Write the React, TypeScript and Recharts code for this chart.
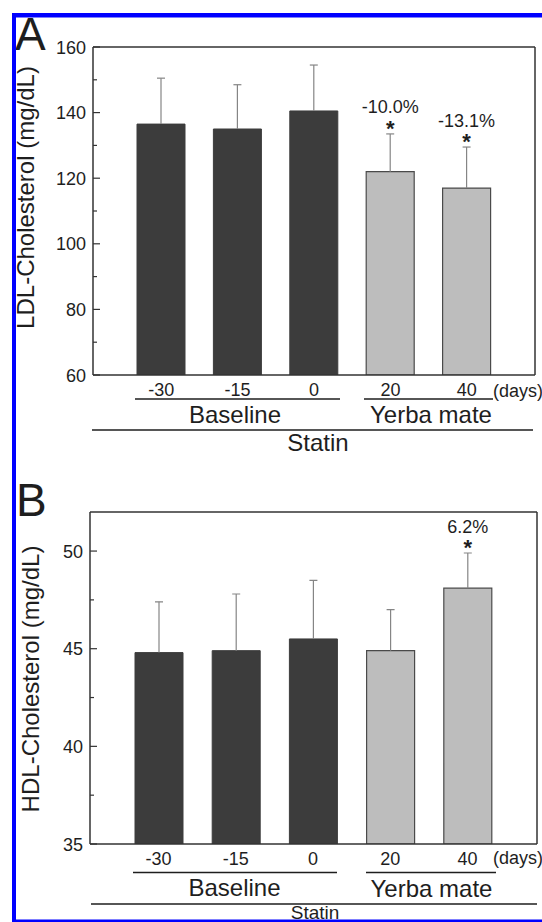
import React from "react";
import {
  ComposedChart,
  Bar,
  Cell,
  CartesianGrid,
  LabelList,
  XAxis,
  YAxis,
} from "recharts";

// days of sampling and the phase each belongs to
const days = ["-30", "-15", "0", "20", "40"];
const phase = ["Baseline", "Baseline", "Baseline", "Yerba mate", "Yerba mate"];

// panel A, LDL
const ldlMean = [136.5, 135, 140.5, 122, 117];
const ldlSd = [14, 13.5, 14, 11.5, 12.5];
const ldlNote = ["", "", "", "-10.0%", "-13.1%"];
const ldlTicks = [60, 70, 80, 90, 100, 110, 120, 130, 140, 150, 160];

// panel B, HDL
const hdlMean = [44.8, 44.9, 45.5, 44.9, 48.1];
const hdlSd = [2.6, 2.9, 3.0, 2.1, 1.8];
const hdlNote = ["", "", "", "", "6.2%"];
const hdlTicks = [35, 37.5, 40, 42.5, 45, 47.5, 50];

const FONT = '"Liberation Sans", Arial, sans-serif';
const INK = "#1e1e1e";
const DARK = "#3c3c3c";
const LIGHT = "#bdbdbd";

const rows = (mean: number[], sd: number[], note: string[]) =>
  days.map((d, i) => ({ day: d, mean: mean[i], sd: sd[i], note: note[i] }));

const TICK_MARGIN = 7;

const YTick = (props: any) => {
  const { x, y, payload, every } = props;
  const v = payload.value;
  const axisX = x + TICK_MARGIN;
  const major = Math.abs(v / every - Math.round(v / every)) < 1e-6;
  return (
    <g>
      <line
        x1={axisX}
        x2={axisX + (major ? 7 : 4)}
        y1={y}
        y2={y}
        stroke="#333"
        strokeWidth={1.2}
      />
      {major && (
        <text
          x={x}
          y={y + 6.5}
          textAnchor="end"
          fontSize={18}
          fontFamily={FONT}
          fill={INK}
        >
          {v}
        </text>
      )}
    </g>
  );
};

// one-sided (upper) error bar, drawn on the stacked sd segment
const ErrShape = (props: any) => {
  const { x, y, width, height } = props;
  const cx = x + width / 2;
  return (
    <g stroke="#858585" strokeWidth={1.2}>
      <line x1={cx} x2={cx} y1={y + height} y2={y} />
      <line x1={cx - 4} x2={cx + 4} y1={y} y2={y} />
    </g>
  );
};

const NoteLabel = (props: any) => {
  const { x, y, width, value } = props;
  if (!value) return null;
  const cx = x + width / 2;
  return (
    <g>
      <text
        x={cx}
        y={y - 20.5}
        textAnchor="middle"
        fontSize={18}
        fontFamily={FONT}
        fill={INK}
      >
        {value}
      </text>
      <text
        x={cx}
        y={y + 2}
        textAnchor="middle"
        fontSize={22}
        fontWeight="bold"
        fontFamily={FONT}
        fill={INK}
      >
        *
      </text>
    </g>
  );
};

interface PanelProps {
  data: ReturnType<typeof rows>;
  domain: [number, number];
  ticks: number[];
  every: number;
  height: number;
  marginTop: number;
  marginRight: number;
  yWidth: number;
  xHeight: number;
  pad: { left: number; right: number };
}

const Panel = (p: PanelProps) => (
  <ComposedChart
    width={542}
    height={p.height}
    data={p.data}
    margin={{ top: p.marginTop, right: p.marginRight, bottom: 0, left: 0 }}
  >
    {/* top and right side of the frame */}
    <CartesianGrid
      stroke="#333"
      strokeWidth={1.5}
      horizontalCoordinatesGenerator={({ offset }: any) => [offset.top]}
      verticalCoordinatesGenerator={({ offset }: any) => [
        offset.left + offset.width,
      ]}
    />
    <XAxis
      dataKey="day"
      height={p.xHeight}
      padding={p.pad}
      tickLine={false}
      tickSize={0}
      tickMargin={8}
      axisLine={{ stroke: "#333", strokeWidth: 1.5 }}
      tick={{ fontSize: 18, fontFamily: FONT, fill: INK }}
      interval={0}
    />
    <YAxis
      type="number"
      domain={p.domain}
      ticks={p.ticks}
      interval={0}
      allowDataOverflow
      width={p.yWidth}
      tickLine={false}
      tickSize={0}
      tickMargin={TICK_MARGIN}
      axisLine={{ stroke: "#333", strokeWidth: 1.5 }}
      tick={(t: any) => <YTick {...t} every={p.every} />}
    />
    <Bar dataKey="mean" stackId="s" barSize={48} isAnimationActive={false}>
      {p.data.map((_, i) =>
        phase[i] === "Baseline" ? (
          <Cell key={i} fill={DARK} stroke={DARK} />
        ) : (
          <Cell key={i} fill={LIGHT} stroke="#4a4a4a" strokeWidth={1.2} />
        )
      )}
    </Bar>
    <Bar
      dataKey="sd"
      stackId="s"
      barSize={48}
      shape={ErrShape}
      isAnimationActive={false}
    >
      <LabelList dataKey="note" content={NoteLabel} />
    </Bar>
  </ComposedChart>
);

const T = (props: any) => <text fontFamily={FONT} fill={INK} {...props} />;

const Decor = () => (
  <svg
    width={542}
    height={922}
    style={{ position: "absolute", left: 0, top: 0, pointerEvents: "none" }}
  >
    {/* panel A */}
    <T x={15} y={50} fontSize={46}>A</T>
    <T x={34} y={197.5} fontSize={24} textAnchor="middle" transform="rotate(-90 34 197.5)">
      LDL-Cholesterol (mg/dL)
    </T>
    <T x={493} y={396.5} fontSize={18}>(days)</T>
    <line x1={135} x2={340} y1={399} y2={399} stroke={INK} strokeWidth={1.5} />
    <line x1={364} x2={493} y1={399} y2={399} stroke={INK} strokeWidth={1.5} />
    <T x={235} y={423} fontSize={24} textAnchor="middle">Baseline</T>
    <T x={431} y={423} fontSize={24} textAnchor="middle">Yerba mate</T>
    <line x1={92} x2={533} y1={430} y2={430} stroke={INK} strokeWidth={1.5} />
    <T x={318} y={451} fontSize={24} textAnchor="middle">Statin</T>

    {/* panel B */}
    <T x={16} y={516} fontSize={46}>B</T>
    <T x={39} y={679} fontSize={24} textAnchor="middle" transform="rotate(-90 39 679)">
      HDL-Cholesterol (mg/dL)
    </T>
    <T x={493} y={864} fontSize={18}>(days)</T>
    <line x1={133} x2={337} y1={872.5} y2={872.5} stroke={INK} strokeWidth={1.5} />
    <line x1={366} x2={496} y1={872.5} y2={872.5} stroke={INK} strokeWidth={1.5} />
    <T x={234.5} y={896} fontSize={24} textAnchor="middle">Baseline</T>
    <T x={431.5} y={897} fontSize={24} textAnchor="middle">Yerba mate</T>
    <line x1={91} x2={537} y1={904} y2={904} stroke={INK} strokeWidth={1.5} />
    <T x={315} y={919} fontSize={19} textAnchor="middle">Statin</T>

    {/* blue frame */}
    <rect x={12} y={13} width={530} height={4.5} fill="#0000ff" />
    <rect x={12} y={13} width={4} height={909} fill="#0000ff" />
    <rect x={12} y={919.5} width={530} height={2.5} fill="#0000ff" />
  </svg>
);

export default function App() {
  const ldl = rows(ldlMean, ldlSd, ldlNote);
  const hdl = rows(hdlMean, hdlSd, hdlNote);
  return (
    <div
      style={{
        position: "absolute",
        left: 0,
        top: 0,
        width: 542,
        height: 922,
        overflow: "hidden",
        background: "#fff",
      }}
    >
      <div style={{ position: "absolute", left: 0, top: 0 }}>
        <Panel
          data={ldl}
          domain={[60, 160]}
          ticks={ldlTicks}
          every={20}
          height={460}
          marginTop={47}
          marginRight={7}
          yWidth={93}
          xHeight={85}
          pad={{ left: 30, right: 30 }}
        />
      </div>
      <div style={{ position: "absolute", left: 0, top: 460 }}>
        <Panel
          data={hdl}
          domain={[35, 52]}
          ticks={hdlTicks}
          every={5}
          height={462}
          marginTop={52}
          marginRight={5}
          yWidth={90}
          xHeight={78}
          pad={{ left: 30, right: 31 }}
        />
      </div>
      <Decor />
    </div>
  );
}
